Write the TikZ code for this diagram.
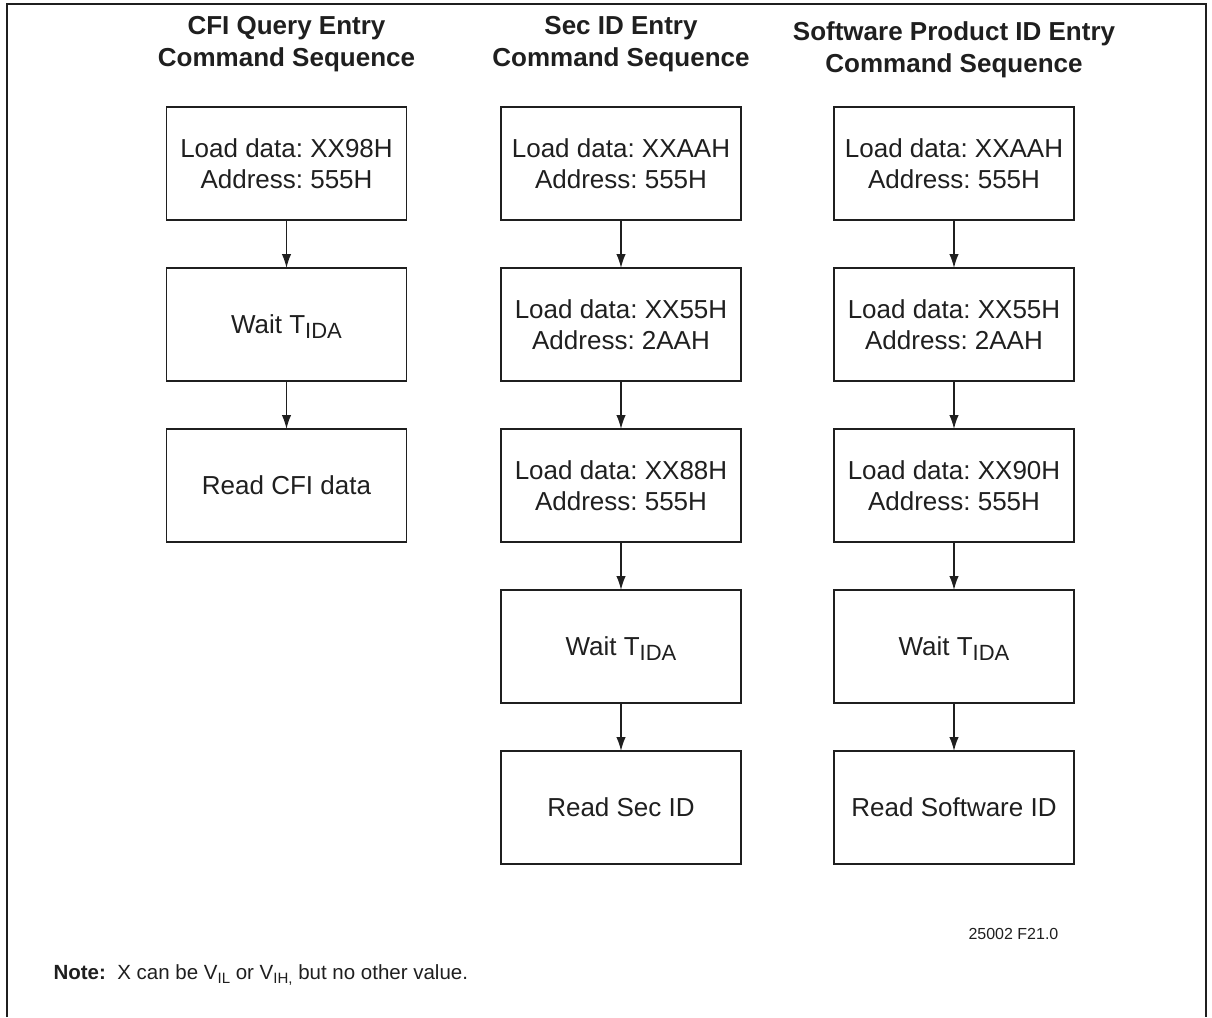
\documentclass[tikz,border=0pt]{standalone}
\usepackage{fontspec}
\setmainfont{Liberation Sans}
\usetikzlibrary{positioning}
\usetikzlibrary{arrows.meta}
\frenchspacing
\colorlet{ink}{black!88}
\newcommand{\boxsub}[1]{\raisebox{-5pt}[0pt][0pt]{\fontsize{22}{22}\selectfont #1}}
\newcommand{\notesub}[1]{\raisebox{-4pt}[0pt][0pt]{\fontsize{15}{15}\selectfont #1}}
\tikzset{
  stepbox/.style={draw=ink,line width=1.9pt,minimum width=240pt,minimum height=113pt,
    inner sep=0pt,outer sep=0pt,align=center,text=ink,font=\fontsize{26}{31}\selectfont},
  seqtitle/.style={align=center,text=ink,font=\bfseries\fontsize{26}{32}\selectfont},
  flow/.style={draw=ink,line width=1.5pt,-{Latex[length=14pt,width=9.5pt]}},
  smalltext/.style={anchor=base west,text=ink,font=\fontsize{16}{18}\selectfont},
}

\begin{document}
\begin{tikzpicture}[x=1pt,y=-1pt,node distance=48pt]
  \useasboundingbox (0,0) rectangle (1212,1017);
  \draw[ink,line width=1.6pt] (7,1017) |- (1206,4) -- (1206,1017);
  % CFI query entry
  \node[seqtitle] (cfiT) at (286.5,44) {CFI Query Entry\\Command Sequence};
  \node[stepbox] (cfi1) at (286.5,163.5) {Load data: XX98H\\Address: 555H};
  \node[stepbox,below=of cfi1] (cfi2) {Wait T\boxsub{IDA}};
  \node[stepbox,below=of cfi2] (cfi3) {Read CFI data};
  % Sec ID entry
  \node[seqtitle] (secT) at (621,44) {Sec ID Entry\\Command Sequence};
  \node[stepbox] (sec1) at (621,163.5) {Load data: XXAAH\\Address: 555H};
  \node[stepbox,below=of sec1] (sec2) {Load data: XX55H\\Address: 2AAH};
  \node[stepbox,below=of sec2] (sec3) {Load data: XX88H\\Address: 555H};
  \node[stepbox,below=of sec3] (sec4) {Wait T\boxsub{IDA}};
  \node[stepbox,below=of sec4] (sec5) {Read Sec ID};
  % Software product ID entry
  \node[seqtitle] (swT) at (954,50) {Software Product ID Entry\\Command Sequence};
  \node[stepbox] (sw1) at (954,163.5) {Load data: XXAAH\\Address: 555H};
  \node[stepbox,below=of sw1] (sw2) {Load data: XX55H\\Address: 2AAH};
  \node[stepbox,below=of sw2] (sw3) {Load data: XX90H\\Address: 555H};
  \node[stepbox,below=of sw3] (sw4) {Wait T\boxsub{IDA}};
  \node[stepbox,below=of sw4] (sw5) {Read Software ID};
  \foreach \a/\b in {cfi1/cfi2,cfi2/cfi3,sec1/sec2,sec2/sec3,sec3/sec4,sec4/sec5,
                     sw1/sw2,sw2/sw3,sw3/sw4,sw4/sw5}
    \draw[flow] (\a) -- (\b);
  \node[smalltext] (figno) at (965,939) {25002 F21.0};
  \node[smalltext,font=\fontsize{20.5}{22}\selectfont] (note) at (50,979)
    {\textbf{Note:}\ \ X can be V\notesub{IL} or V\notesub{IH,} but no other value.};
\end{tikzpicture}
\end{document}
